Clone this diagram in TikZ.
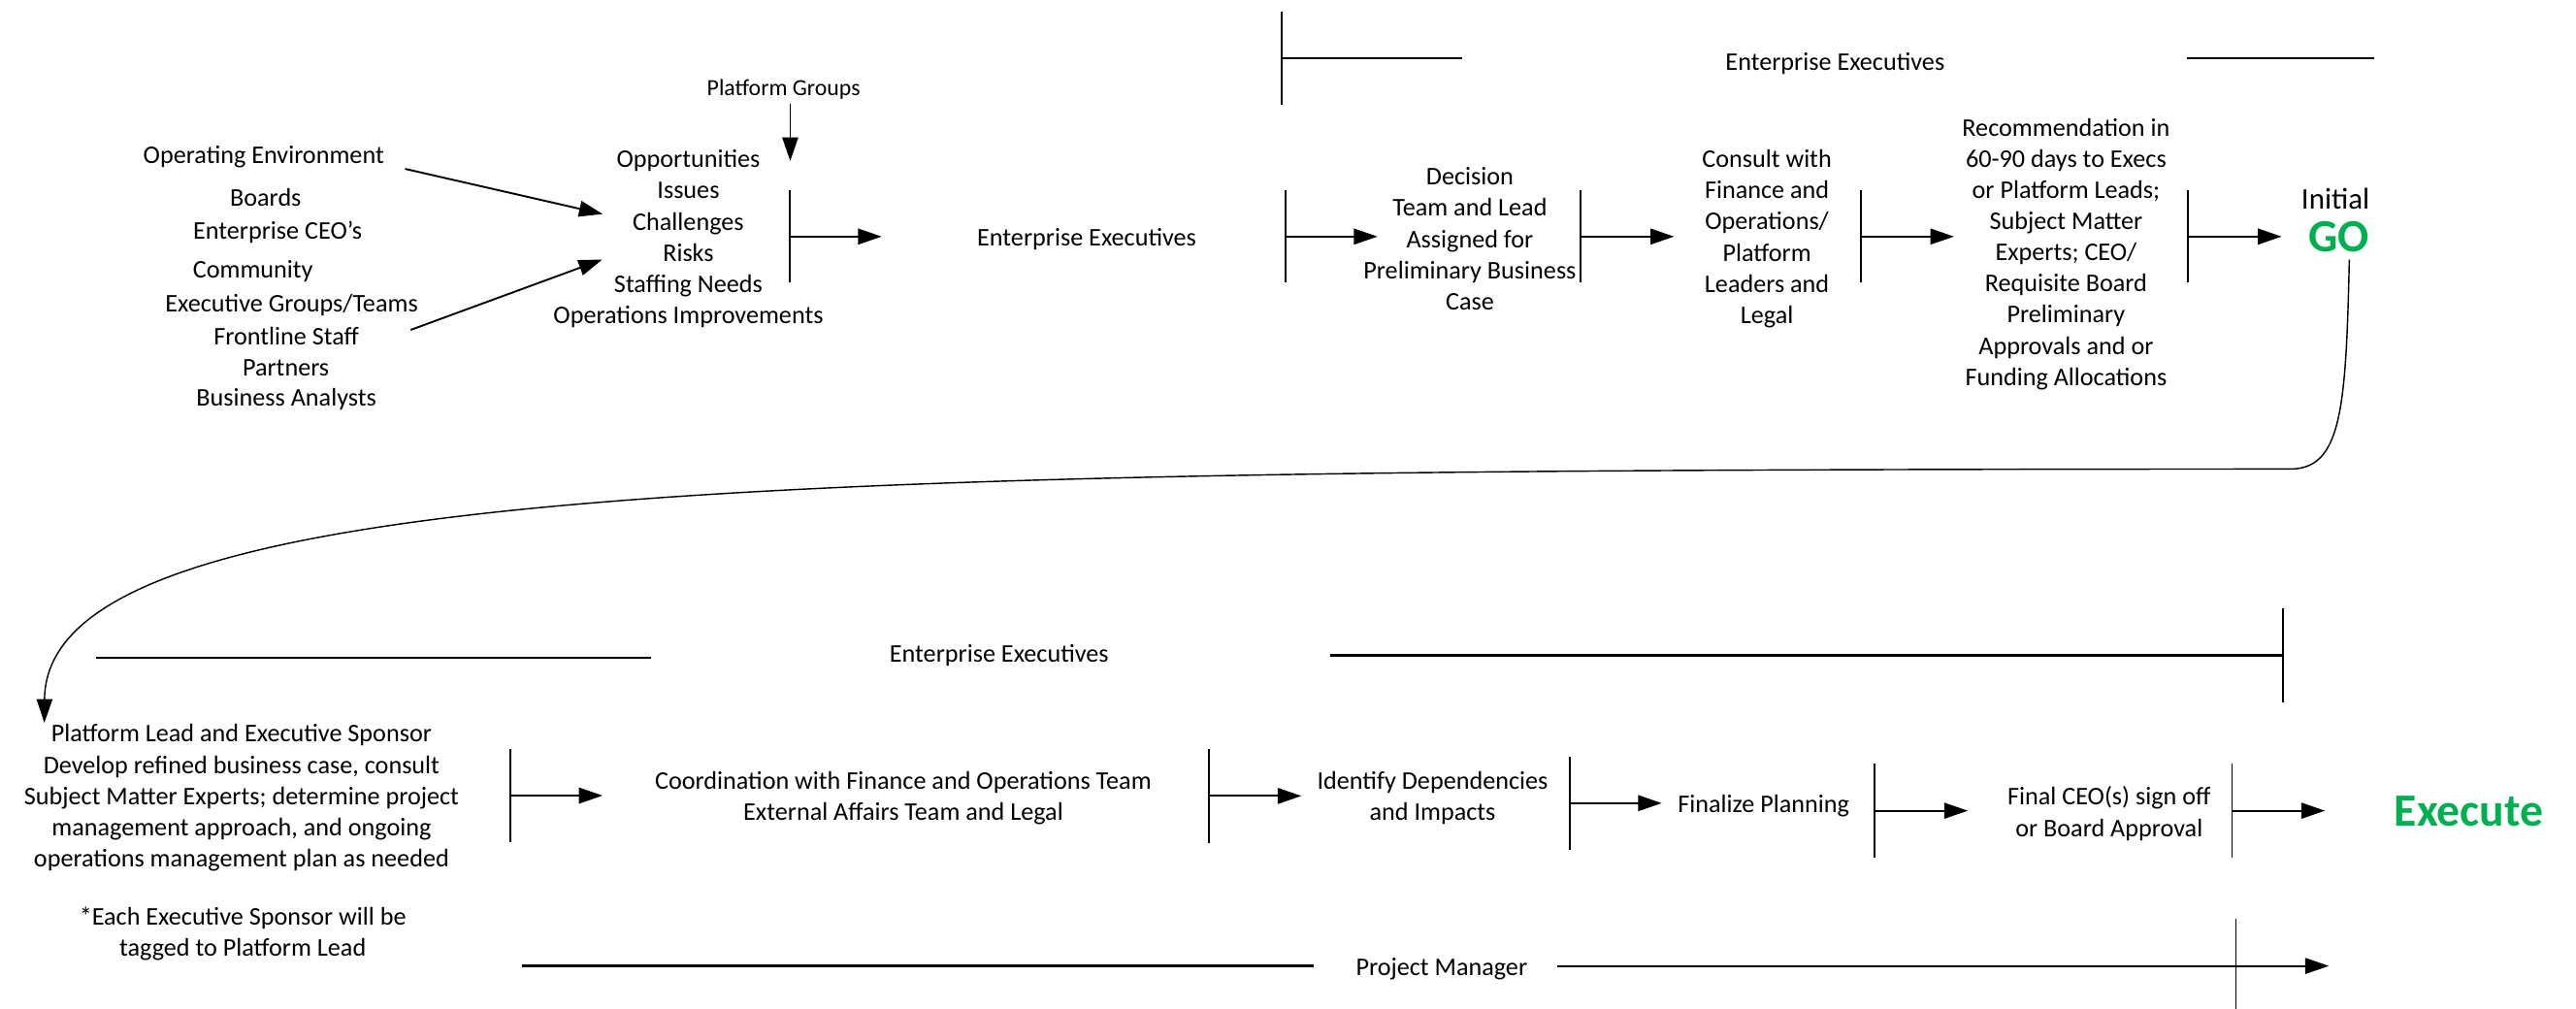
\documentclass[tikz,border=0pt]{standalone}
\usepackage{fontspec}
\setmainfont{Carlito}
\usepackage{tikz}
\usetikzlibrary{arrows.meta}
\usetikzlibrary{calc}
\definecolor{gogreen}{HTML}{00B050}

\begin{document}
\begin{tikzpicture}[x=0.25mm, y=-0.25mm,
            txt/.style={inner sep=0pt, yshift=-0.35mm, align=center, font=\fontsize{11}{13.5}\selectfont},
            smalltxt/.style={inner sep=0pt, yshift=-0.3mm, font=\fontsize{10}{12}\selectfont},
            bigtxt/.style={inner sep=0pt, text=gogreen, font=\fontsize{20}{24}\selectfont\bfseries},
            bar/.style={line width=0.8pt},
            rule/.style={line width=1pt},
            flow/.style={line width=0.8pt, -{Triangle[length=3.6mm, width=2.4mm]}}]
            \useasboundingbox (0,0) rectangle (1568,614);

            % inputs
            \draw (160.5,94) node[txt]    (env) {Operating Environment};
            \draw (161.7,119) node[txt]   (boards) {Boards};
            \draw (169,140) node[txt]     (ceos) {Enterprise CEO’s};
            \draw (154,164) node[txt]     (community) {Community};
            \draw (177.5,184.5) node[txt] (groups) {Executive Groups/Teams};
            \draw (174.3,203) node[txt]   (staff) {Frontline Staff};
            \draw (174,222.5) node[txt]   (partners) {Partners};
            \draw (174.3,241.5) node[txt] (analysts) {Business Analysts};
            \draw (477,53) node[smalltxt] (pgroups) {Platform Groups};
            \draw (419,144) node[txt]     (needs) {Opportunities\\Issues\\Challenges\\Risks\\Staffing Needs\\Operations Improvements};

            \coordinate (env-out) at (246.6,102.8);
            \coordinate (env-in) at (366.9,130.3);
            \coordinate (staff-out) at (250,200.8);
            \coordinate (staff-in) at (366.6,158);
            \coordinate (pg-out) at (481,63.4);
            \coordinate (pg-in) at (481,98);
            \draw[flow] (env-out) -- (env-in);
            \draw[flow] (staff-out) -- (staff-in);
            \draw[flow] (pg-out) -- (pg-in);

            % first row
            \draw (661.5,144) node[txt]   (exec) {Enterprise Executives};
            \draw (894.7,144) node[txt]   (decision) {Decision\\Team and Lead\\Assigned for\\Preliminary Business\\Case};
            \draw (1075.5,144) node[txt]  (consult) {Consult with\\Finance and\\Operations/\\Platform\\Leaders and\\Legal};
            \draw (1257.6,153.2) node[txt] (recom) {Recommendation in\\60-90 days to Execs\\or Platform Leads;\\Subject Matter\\Experts; CEO/\\Requisite Board\\Preliminary\\Approvals and or\\Funding Allocations};
            \draw (1421.6,121) node[inner sep=0pt, font=\fontsize{13}{15}\selectfont] (initial) {Initial};
            \draw (1423.5,144) node[bigtxt] (go) {GO};

            \coordinate (b1) at (480.8,144);   \coordinate (t1) at (536.7,144);
            \coordinate (b2) at (782.5,144);   \coordinate (t2) at (838.5,144);
            \coordinate (b3) at (962.3,144);   \coordinate (t3) at (1019,144);
            \coordinate (b4) at (1132.8,144);  \coordinate (t4) at (1189.4,144);
            \coordinate (b5) at (1332,144);    \coordinate (t5) at (1388.8,144);
            \draw[bar] ($(b1)+(0,-28)$) -- ($(b1)+(0,28)$);
            \draw[bar] ($(b2)+(0,-28)$) -- ($(b2)+(0,28)$);
            \draw[bar] ($(b3)+(0,-28)$) -- ($(b3)+(0,28)$);
            \draw[bar] ($(b4)+(0,-28)$) -- ($(b4)+(0,28)$);
            \draw[bar] ($(b5)+(0,-28)$) -- ($(b5)+(0,28)$);
            \draw[flow] (b1) -- (t1);
            \draw[flow] (b2) -- (t2);
            \draw[flow] (b3) -- (t3);
            \draw[flow] (b4) -- (t4);
            \draw[flow] (b5) -- (t5);

            % executives span, top
            \draw (1117,37.4) node[txt] (topexec) {Enterprise Executives};
            \draw[bar] (780.2,7) -- (780.2,64);
            \draw[rule] (780.2,35.4) -- (890,35.4);
            \draw[rule] (1331,35.4) -- (1445.3,35.4);

            % GO down to second row
            \coordinate (go-out) at (1430,158);
            \coordinate (sponsor-in) at (27,440);
            \draw[flow, line width=0.6pt] (go-out) .. controls (1428,250) and (1425,285.5) .. (1394,285.5)
                .. controls (500,286) and (28,290) .. (sponsor-in);

            % second row
            \draw (147,484.3) node[txt]   (sponsor) {Platform Lead and Executive Sponsor\\Develop refined business case, consult\\Subject Matter Experts; determine project\\management approach, and ongoing\\operations management plan as needed};
            \draw (147.8,566.8) node[txt] (note) {*Each Executive Sponsor will be\\tagged to Platform Lead};
            \draw (549.8,484.5) node[txt] (coord) {Coordination with Finance and Operations Team\\External Affairs Team and Legal};
            \draw (872,484.5) node[txt]   (depend) {Identify Dependencies\\and Impacts};
            \draw (1073.5,489.3) node[txt] (finalize) {Finalize Planning};
            \draw (1283.8,493.8) node[txt] (signoff) {Final CEO(s) sign off\\or Board Approval};
            \draw (1502.7,493.6) node[bigtxt] (execute) {Execute};

            \coordinate (c1) at (310.6,484.3);  \coordinate (d1) at (366.8,484.3);
            \coordinate (c2) at (735.8,484.5);  \coordinate (d2) at (792.1,484.5);
            \coordinate (c3) at (955.5,488.9);  \coordinate (d3) at (1011.5,488.9);
            \coordinate (c4) at (1140.9,493.5); \coordinate (d4) at (1197.8,493.5);
            \coordinate (c5) at (1358.6,493.5); \coordinate (d5) at (1415.2,493.5);
            \draw[bar] ($(c1)+(0,-28.5)$) -- ($(c1)+(0,28.5)$);
            \draw[bar] ($(c2)+(0,-28.5)$) -- ($(c2)+(0,28.5)$);
            \draw[bar] ($(c3)+(0,-28.5)$) -- ($(c3)+(0,28.5)$);
            \draw[bar] ($(c4)+(0,-28.5)$) -- ($(c4)+(0,28.5)$);
            \draw[bar] ($(c5)+(0,-28.5)$) -- ($(c5)+(0,28.5)$);
            \draw[flow] (c1) -- (d1);
            \draw[flow] (c2) -- (d2);
            \draw[flow] (c3) -- (d3);
            \draw[flow] (c4) -- (d4);
            \draw[flow] (c5) -- (d5);

            % executives span, bottom
            \draw (608.2,397.7) node[txt] (botexec) {Enterprise Executives};
            \draw[rule] (58.3,400.3) -- (396,400.3);
            \draw[rule] (809.7,399) -- (1389.8,399);
            \draw[bar] (1389.8,370.5) -- (1389.8,427.6);

            % project manager span
            \draw (877.5,588.7) node[txt] (pm) {Project Manager};
            \coordinate (pm-end) at (1417.6,588);
            \draw[rule] (317.7,588) -- (799.5,588);
            \draw[flow] (948,588) -- (pm-end);
            \draw[bar] (1361,559) -- (1361,614);

            \end{tikzpicture}
\end{document}
